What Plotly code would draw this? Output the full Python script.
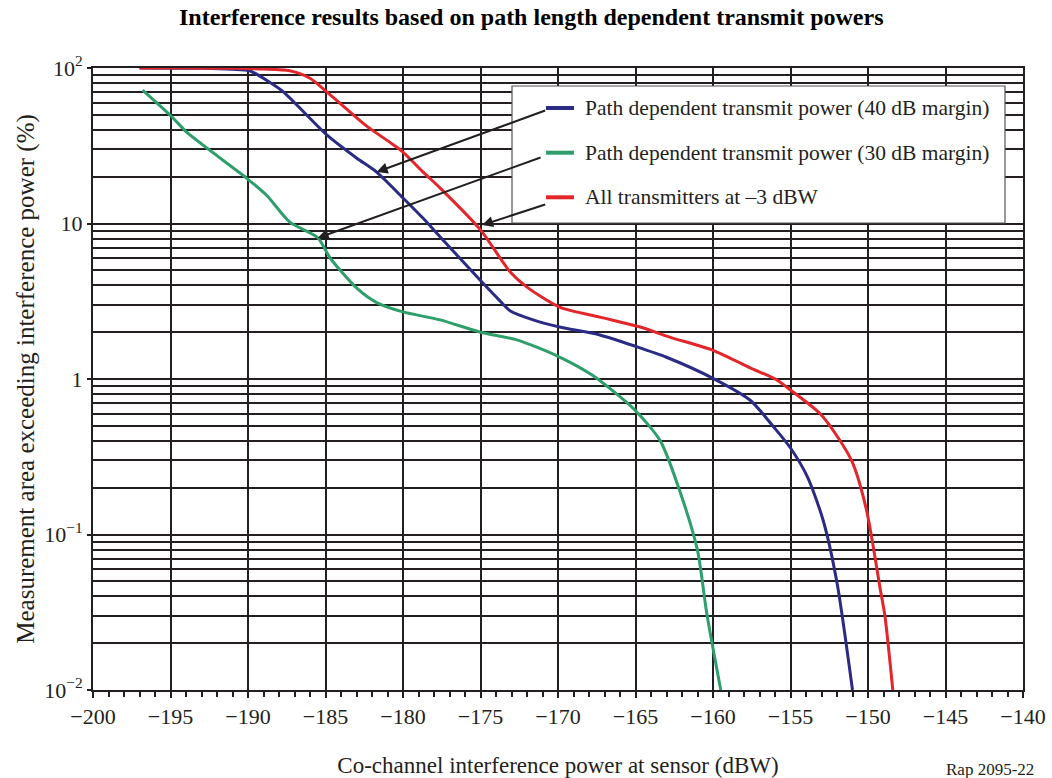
import plotly.graph_objects as go

# Co-channel interference power at sensor (dBW) and percentage of measurement area
# exceeding that power, for each transmit-power scheme.
pd40_x = [-197, -193, -191, -189.9, -188.6, -187.7, -184.9, -183, -181.7, -180, -178.7,
          -177.6, -175, -173.9, -173.1, -171.6, -169.9, -167.3, -164.9, -163, -160,
          -157.6, -156, -155, -153.9, -152.9, -152, -151]
pd40_y = [100, 99.5, 98, 96, 81, 70, 37, 26.4, 21.4, 14.6, 10.8,
          8.2, 4.3, 3.3, 2.75, 2.4, 2.16, 1.92, 1.61, 1.38, 1.01,
          0.73, 0.48, 0.36, 0.234, 0.124, 0.049, 0.01]

pd30_x = [-196.8, -194.9, -193.9, -190.1, -188.8, -187.3, -185.5, -184.7, -183, -181.7,
          -180, -177.6, -175, -172.6, -170, -167.8, -165.1, -163.4, -162.1, -161,
          -160.4, -159.5]
pd30_y = [72, 48.4, 38.2, 19.6, 15.2, 10.2, 8.1, 6.0, 3.85, 3.1,
          2.7, 2.4, 2.0, 1.78, 1.40, 1.06, 0.64, 0.40, 0.185, 0.079,
          0.031, 0.01]

fixed_x = [-197, -194, -191, -189, -187.3, -186, -184.9, -183, -182.3, -180.8, -180,
           -178.7, -177.6, -175, -173.1, -172, -169.9, -167.3, -164.7, -162.8, -160,
           -157.6, -155.9, -155, -153.1, -152, -151, -150.1, -149.2, -148.9, -148.4]
fixed_y = [100, 100, 99.5, 98.5, 96, 86, 70, 48, 42, 33, 28.8,
           21.4, 16.9, 9.1, 4.9, 3.9, 2.9, 2.5, 2.16, 1.86, 1.53,
           1.18, 0.99, 0.85, 0.60, 0.43, 0.29, 0.144, 0.044, 0.0295, 0.01]

series_names = ["Path dependent transmit power (40 dB margin)",
                "Path dependent transmit power (30 dB margin)",
                "All transmitters at \u20133 dBW"]
series_colors = ["#2b2a85", "#2e9e6b", "#e3262b"]

y_tick_vals = [0.01, 0.1, 1, 10, 100]
y_tick_text = ["10<sup>\u22122</sup>", "10<sup>\u22121</sup>", "1", "10", "10<sup>2</sup>"]

FONT = "Liberation Serif, Times New Roman, serif"
INK = "#231f20"

fig = go.Figure()
for xs, ys, name, col in [(pd40_x, pd40_y, series_names[0], series_colors[0]),
                          (pd30_x, pd30_y, series_names[1], series_colors[1]),
                          (fixed_x, fixed_y, series_names[2], series_colors[2])]:
    fig.add_trace(go.Scatter(x=xs, y=ys, mode="lines", name=name,
                             line=dict(color=col, width=3, shape="spline", smoothing=0.7),
                             showlegend=False))

# Legend panel drawn as a boxed key inside the plot area
L, R = 93, 1023
T, B = 68, 690


def px(xp):
    return (xp - L) / (R - L)


def py(yp):
    return (B - yp) / (B - T)


fig.add_shape(type="rect", xref="paper", yref="paper",
              x0=px(512), x1=px(1005), y0=py(223), y1=py(86),
              fillcolor="white", line=dict(color="#555555", width=1.2), layer="above")
for i, (name, col) in enumerate(zip(series_names, series_colors)):
    yk = [108, 152.7, 197.3][i]
    fig.add_shape(type="line", xref="paper", yref="paper",
                  x0=px(546), x1=px(574), y0=py(yk), y1=py(yk),
                  line=dict(color=col, width=4), layer="above")
    fig.add_annotation(xref="paper", yref="paper", x=px(583), y=py(yk),
                       xanchor="left", yanchor="middle", text=name, showarrow=False,
                       font=dict(family=FONT, size=21.5, color=INK))

# Pointers from the key to each curve (tip at the curve, tail at the key)
pointers = [((-181.7, 1.331), (-170.73, 1.730)),
            ((-185.5, 0.907), (-171.03, 1.428)),
            ((-174.9, 0.990), (-170.73, 1.125))]
for (tx, ty), (sx, sy) in pointers:
    fig.add_annotation(x=tx, y=ty, ax=sx, ay=sy, xref="x", yref="y", axref="x", ayref="y",
                       text="", showarrow=True, arrowhead=2, arrowsize=1.1, arrowwidth=2,
                       arrowcolor=INK, standoff=0)

fig.add_annotation(xref="paper", yref="paper", x=px(990), y=py(758),
                   xanchor="center", yanchor="top", text="Rap 2095-22", showarrow=False,
                   font=dict(family=FONT, size=17, color=INK))

fig.update_layout(
    width=1052, height=778,
    margin=dict(l=L, r=1052 - R, t=T, b=778 - B, autoexpand=False),
    paper_bgcolor="white", plot_bgcolor="white",
    title=dict(text="<b>Interference results based on path length dependent transmit powers</b>",
               font=dict(family=FONT, size=24, color="black"),
               x=0.505, xref="container", xanchor="center",
               y=1 - 17 / 778, yref="container", yanchor="middle"),
    font=dict(family=FONT, color=INK),
)

fig.update_xaxes(
    range=[-200, -140], tick0=-200, dtick=5, automargin=False,
    showgrid=True, gridcolor=INK, gridwidth=2,
    showline=True, linecolor=INK, linewidth=2, mirror=True,
    ticks="outside", ticklen=6, tickwidth=1.5, tickcolor=INK,
    tickfont=dict(family=FONT, size=22, color=INK),
    minor=dict(dtick=1, ticks="outside", ticklen=5, tickwidth=1.5, tickcolor=INK, showgrid=False),
    zeroline=False,
    title=dict(text="Co-channel interference power at sensor (dBW)",
               font=dict(family=FONT, size=23, color=INK), standoff=28),
)

fig.update_yaxes(
    type="log", range=[-2, 2], automargin=False,
    tickvals=y_tick_vals, ticktext=y_tick_text,
    showgrid=True, gridcolor=INK, gridwidth=2,
    minor=dict(dtick="D1", showgrid=True, gridcolor=INK, gridwidth=2, ticks=""),
    showline=True, linecolor=INK, linewidth=2, mirror=True,
    ticks="outside", ticklen=4, tickwidth=1.5, tickcolor=INK,
    tickfont=dict(family=FONT, size=22, color=INK),
    zeroline=False,
    title=dict(text="Measurement area exceeding interference power (%)",
               font=dict(family=FONT, size=25, color=INK), standoff=2),
)

fig.write_html("out.html")
